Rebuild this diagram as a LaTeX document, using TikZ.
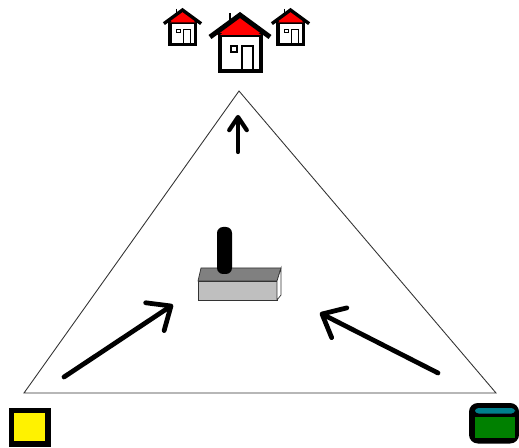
\documentclass[tikz,border=0pt]{standalone}
\usetikzlibrary{arrows.meta}

\definecolor{roofred}{RGB}{255,0,0}
\definecolor{binteal}{RGB}{0,128,140}
\definecolor{bingreen}{RGB}{0,128,0}

% straight two-armed head
\pgfdeclarearrow{
  name = Barb,
  parameters = {\the\pgfarrowlength,\the\pgfarrowwidth},
  setup code = {
    \pgfarrowssettipend{0pt}
    \pgfarrowssetlineend{-0.5\pgflinewidth}
    \pgfarrowsupperhullpoint{-\pgfarrowlength}{.5\pgfarrowwidth}
    \pgfarrowsupperhullpoint{0pt}{0pt}
    \pgfarrowssavethe\pgfarrowlength
    \pgfarrowssavethe\pgfarrowwidth
  },
  drawing code = {
    \pgfsetdash{}{0pt}
    \pgfsetroundcap
    \pgfsetroundjoin
    \pgfpathmoveto{\pgfqpoint{-\pgfarrowlength}{.5\pgfarrowwidth}}
    \pgfpathlineto{\pgfpointorigin}
    \pgfpathlineto{\pgfqpoint{-\pgfarrowlength}{-.5\pgfarrowwidth}}
    \pgfusepathqstroke
  },
  defaults = {length = 11pt, width = 19pt}
}

\tikzset{
  wall/.style={line width=2.8pt},
  trim/.style={line width=0.9pt},
  house/.pic={
    % roof, walls, window and door
    \fill[roofred] (-27,20) -- (0,2) -- (27,20) -- cycle;
    \draw[trim] (-10,-2) -- (-10,8);
    \draw[wall,fill=white] (-20,20) rectangle (21,56);
    \fill[roofred] (-20,20) -- (0,4) -- (21,20) -- cycle;
    \draw[wall,line join=miter] (-30,22) -- (0,0) -- (30,22);
    \draw[trim] (-9,31) rectangle (-3,37);
    \draw[trim] (2,54) -- (2,31) -- (13,31) -- (13,54);
  }
}

\begin{document}
\begin{tikzpicture}[x=0.02cm,y=-0.02cm,
    flow/.style={line width=2.7pt,line cap=round,-{Barb[length=11pt,width=19pt]}},
    edge/.style={line width=0.5pt,black!80},
  ]
  \useasboundingbox (0,0) rectangle (519,448);

  % the triangle
  \coordinate (top) at (239,91);
  \coordinate (left) at (24,393);
  \coordinate (right) at (496,393);
  \draw[edge] (top) -- (left) -- (right) -- cycle;

  % houses
  \pic[scale=0.62,wall/.style={line width=1.9pt},trim/.style={line width=0.6pt}] at (182.5,10) {house};
  \pic at (240,15) {house};
  \pic[scale=0.62,wall/.style={line width=1.9pt},trim/.style={line width=0.6pt}] at (290.5,10) {house};

  % box with the post
  \draw[black!80,thin,fill=black!50] (198,281) -- (201,268) -- (281,268) -- (277,281) -- cycle;
  \draw[black!80,thin,fill=black!25] (198,281) rectangle (277,300);
  \draw[black!80,thin,fill=white] (277,281) -- (281,268) -- (281,295) -- (277,300) -- cycle;
  \fill[black,rounded corners=3.5pt] (217,274) -- (217,227) -- (232,227) -- (232,274) -- cycle;

  % flows
  \coordinate (upA) at (238,152);
  \coordinate (upB) at (238,117);
  \coordinate (inLA) at (64,377);
  \coordinate (inLB) at (171,306);
  \coordinate (inRA) at (438,373);
  \coordinate (inRB) at (322,314);
  \draw[flow,line width=2.4pt,-{Barb[length=7.5pt,width=10pt]}] (upA) -- (upB);
  \draw[flow] (inLA) -- (inLB);
  \draw[flow] (inRA) -- (inRB);

  % yellow block and green bin
  \draw[line width=3.2pt,fill=yellow] (11.5,410.5) rectangle (48,444);
  \fill[black,rounded corners=5pt] (469,403) rectangle (519,443.5);
  \fill[bingreen] (475,417) rectangle (515,438);
  \fill[binteal,rounded corners=2pt] (475,408) rectangle (515,413.5);
\end{tikzpicture}
\end{document}
